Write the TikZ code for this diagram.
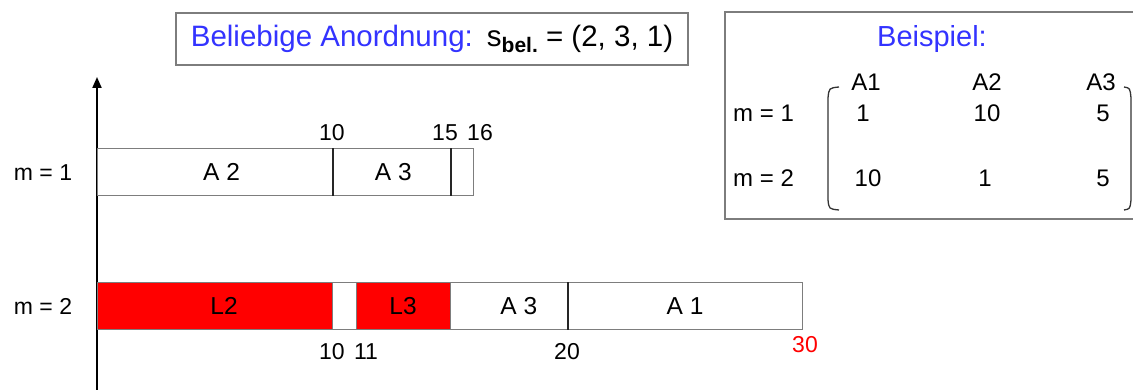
\documentclass[tikz,border=0pt]{standalone}
\usepackage{fontspec}
\setmainfont{Liberation Sans}
\usetikzlibrary{arrows.meta}
\definecolor{titleblue}{RGB}{51,51,255}
\definecolor{barred}{RGB}{255,0,0}
\definecolor{framegray}{RGB}{125,125,125}

\begin{document}
\begin{tikzpicture}[x=1pt,y=1pt,
  lbl/.style={font=\fontsize{23}{26}\selectfont, inner sep=0pt, anchor=base},
  mlbl/.style={font=\fontsize{24}{28}\selectfont, inner sep=0pt, anchor=base},
  seg/.style={draw=framegray, line width=1.2pt, minimum height=47pt, inner sep=0pt,
              anchor=south west, font=\fontsize{24.5}{28}\selectfont},
  redseg/.style={seg, fill=barred},
  divider/.style={line width=1.8pt, draw=black!85},
  frame/.style={draw=framegray, line width=1.5pt, inner sep=0pt},
  bracket/.style={draw=black!80, line width=1.3pt},
]
\useasboundingbox (0,0) rectangle (1133,390);

% time axis
\coordinate (axbot) at (97,0);
\coordinate (axtop) at (97,313);
\draw[line width=2pt, -{Triangle[length=11pt,width=9pt]}] (axbot) -- (axtop);

% machine m = 1 (1 unit = 23.5pt)
\node[seg, minimum width=235pt]   (r1a2) at (97,194)    {\hspace*{13pt}A 2};
\node[seg, minimum width=117.5pt] (r1a3) at (332,194)   {\hspace*{4pt}A 3};
\node[seg, minimum width=23.5pt]  (r1a1) at (449.5,194) {};
\draw[divider] (r1a2.south east) -- (r1a2.north east);
\draw[divider] (r1a3.south east) -- (r1a3.north east);

% machine m = 2
\node[redseg, minimum width=235pt] (r2l2) at (97,60)    {\hspace*{18pt}L2};
\node[seg, minimum width=23.5pt]   (r2gap) at (332,60)  {};
\node[redseg, minimum width=94pt]  (r2l3) at (355.5,60) {L3};
\node[seg, minimum width=117.5pt]  (r2a3) at (449.5,60) {\hspace*{20pt}A 3};
\node[seg, minimum width=235pt]    (r2a1) at (567,60)   {A 1};
\draw[divider] (r2a3.south east) -- (r2a3.north east);

% row labels
\node[lbl] (m1) at (43,209) {m = 1};
\node[lbl] (m2) at (43,75) {m = 2};

% time marks
\node[lbl] (t10a) at (332,249) {10};
\node[lbl] (t15a) at (445,249) {15};
\node[lbl] (t16a) at (480,249) {16};
\node[lbl] (t10b) at (332,30) {10};
\node[lbl] (t11b) at (366,30) {11};
\node[lbl] (t20b) at (567,30) {20};
\node[lbl, text=barred] (t30b) at (805,37) {30};

% heading
\node[frame, minimum width=512pt, minimum height=52pt,
      font=\fontsize{29.5}{34}\selectfont] (title) at (432,351)
  {\textcolor{titleblue}{Beliebige Anordnung:}\hspace{14pt}s\raisebox{-6pt}{\fontsize{21}{24}\selectfont\bfseries bel.} = (2, 3, 1)};

% example frame
\node[frame, anchor=south west, minimum width=420pt, minimum height=207pt] (ex) at (724,170) {};
\node[font=\fontsize{29}{34}\selectfont, text=titleblue, inner sep=0pt, anchor=base] (bsp) at (932,343) {Beispiel:};

\node[mlbl] (h1) at (866,299) {A1};
\node[mlbl] (h2) at (987,299) {A2};
\node[mlbl] (h3) at (1101,299) {A3};

\node[mlbl, anchor=base west] (em1) at (733,268) {m = 1};
\node[mlbl, anchor=base west] (em2) at (733,203) {m = 2};

\node[mlbl] (v11) at (863,268) {1};
\node[mlbl] (v12) at (987,268) {10};
\node[mlbl] (v13) at (1103,268) {5};
\node[mlbl] (v21) at (868,203) {10};
\node[mlbl] (v22) at (985,203) {1};
\node[mlbl] (v23) at (1103,203) {5};

% matrix brackets
\draw[bracket] (839,303) .. controls (829,302) .. (828,292) -- (828,190) .. controls (829,181) .. (839,180);
\draw[bracket] (1124,303) .. controls (1130,302) .. (1131,292) -- (1131,190) .. controls (1130,181) .. (1124,180);
\end{tikzpicture}
\end{document}
